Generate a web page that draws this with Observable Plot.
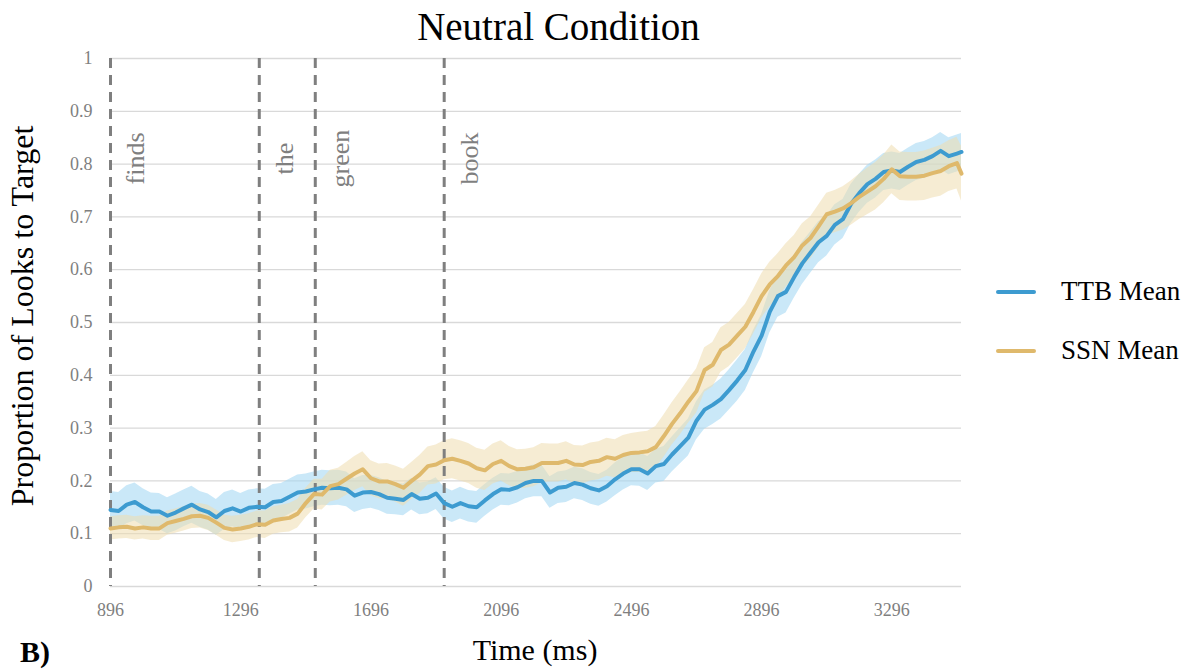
<!DOCTYPE html>
<html>
<head>
<meta charset="utf-8">
<script src="https://cdn.jsdelivr.net/npm/d3@7"></script>
<script src="https://cdn.jsdelivr.net/npm/@observablehq/plot@0.6"></script>
<style>
  html, body { margin: 0; padding: 0; background: #fff; }
  #wrap { position: relative; width: 1190px; height: 671px; font-family: "Liberation Serif", "Times New Roman", serif; }
  #wrap svg { position: absolute; left: 0; top: 0; }
  .lbl { position: absolute; white-space: nowrap; color: #000; }
  .sw { position: absolute; width: 40px; height: 4px; border-radius: 2px; }
</style>
</head>
<body>
<div id="wrap">
  <div class="lbl" style="left:558.5px; top:4px; font-size:39px; line-height:45px; transform:translateX(-50%);">Neutral Condition</div>
  <div class="lbl" style="left:22px; top:316px; font-size:32px; line-height:36px; transform:translate(-50%,-50%) rotate(-90deg);">Proportion of Looks to Target</div>
  <div class="lbl" style="left:535px; top:633px; font-size:30px; line-height:34px; transform:translateX(-50%);">Time (ms)</div>
  <div class="lbl" style="left:20px; top:635px; font-size:30px; line-height:34px; font-weight:bold;">B)</div>
  <div id="legend"></div>
</div>
<script>
// ---- data ----
const times = [...d3.range(896, 3497, 25), 3510];

const ttbMean = [
  0.145, 0.143, 0.155, 0.160, 0.150, 0.142, 0.142, 0.134, 0.140, 0.148,
  0.155, 0.146, 0.141, 0.131, 0.143, 0.148, 0.142, 0.149, 0.151, 0.150,
  0.160, 0.162, 0.170, 0.178, 0.180, 0.184, 0.187, 0.186, 0.187, 0.184,
  0.172, 0.178, 0.179, 0.175, 0.168, 0.166, 0.164, 0.175, 0.166, 0.168,
  0.176, 0.158, 0.151, 0.158, 0.152, 0.150, 0.163, 0.175, 0.184, 0.183,
  0.188, 0.196, 0.200, 0.200, 0.178, 0.187, 0.189, 0.196, 0.193, 0.186,
  0.182, 0.190, 0.203, 0.214, 0.222, 0.222, 0.214, 0.228, 0.232, 0.250,
  0.266, 0.282, 0.314, 0.335, 0.344, 0.355, 0.372, 0.390, 0.410, 0.445,
  0.475, 0.520, 0.550, 0.558, 0.586, 0.612, 0.632, 0.652, 0.664, 0.685,
  0.696, 0.725, 0.745, 0.762, 0.772, 0.785, 0.788, 0.785, 0.795, 0.804,
  0.808, 0.815, 0.825, 0.815, 0.820, 0.823
];
const ttbErr = [
  0.035, 0.035, 0.036, 0.036, 0.035, 0.035, 0.034, 0.034, 0.035, 0.035,
  0.035, 0.034, 0.034, 0.034, 0.035, 0.035, 0.034, 0.034, 0.034, 0.034,
  0.033, 0.033, 0.033, 0.033, 0.033, 0.033, 0.033, 0.033, 0.033, 0.033,
  0.032, 0.032, 0.031, 0.031, 0.031, 0.030, 0.030, 0.030, 0.030, 0.030,
  0.030, 0.030, 0.030, 0.030, 0.030, 0.030, 0.030, 0.030, 0.030, 0.030,
  0.030, 0.030, 0.030, 0.030, 0.030, 0.030, 0.030, 0.030, 0.030, 0.030,
  0.030, 0.030, 0.031, 0.031, 0.031, 0.032, 0.032, 0.032, 0.033, 0.033,
  0.034, 0.035, 0.036, 0.037, 0.037, 0.038, 0.038, 0.039, 0.039, 0.040,
  0.040, 0.040, 0.040, 0.040, 0.040, 0.040, 0.039, 0.039, 0.038, 0.038,
  0.037, 0.037, 0.036, 0.036, 0.036, 0.035, 0.035, 0.035, 0.035, 0.035,
  0.035, 0.035, 0.035, 0.035, 0.035, 0.035
];
const ssnMean = [
  0.110, 0.112, 0.113, 0.110, 0.112, 0.110, 0.110, 0.120, 0.124, 0.128,
  0.133, 0.134, 0.130, 0.121, 0.111, 0.108, 0.110, 0.113, 0.118, 0.117,
  0.125, 0.128, 0.130, 0.138, 0.158, 0.175, 0.174, 0.190, 0.194, 0.204,
  0.214, 0.222, 0.205, 0.199, 0.199, 0.194, 0.187, 0.200, 0.212, 0.228,
  0.231, 0.239, 0.242, 0.238, 0.233, 0.224, 0.220, 0.232, 0.238, 0.228,
  0.222, 0.223, 0.226, 0.234, 0.234, 0.234, 0.238, 0.231, 0.230, 0.236,
  0.238, 0.245, 0.242, 0.249, 0.253, 0.254, 0.256, 0.264, 0.285, 0.308,
  0.328, 0.350, 0.370, 0.410, 0.420, 0.448, 0.458, 0.475, 0.492, 0.520,
  0.550, 0.572, 0.588, 0.608, 0.624, 0.646, 0.660, 0.682, 0.705, 0.710,
  0.716, 0.726, 0.738, 0.748, 0.758, 0.772, 0.790, 0.777, 0.776, 0.776,
  0.778, 0.783, 0.787, 0.796, 0.802, 0.782
];
const ssnErr = [
  0.022, 0.022, 0.022, 0.022, 0.022, 0.023, 0.023, 0.023, 0.023, 0.023,
  0.023, 0.023, 0.024, 0.024, 0.024, 0.025, 0.025, 0.025, 0.025, 0.026,
  0.026, 0.026, 0.027, 0.027, 0.028, 0.028, 0.029, 0.030, 0.030, 0.031,
  0.032, 0.033, 0.033, 0.033, 0.034, 0.034, 0.035, 0.035, 0.036, 0.036,
  0.037, 0.037, 0.038, 0.038, 0.038, 0.038, 0.038, 0.038, 0.038, 0.037,
  0.037, 0.037, 0.037, 0.037, 0.036, 0.036, 0.036, 0.036, 0.036, 0.036,
  0.036, 0.036, 0.036, 0.037, 0.037, 0.038, 0.038, 0.039, 0.040, 0.040,
  0.041, 0.041, 0.042, 0.042, 0.042, 0.042, 0.042, 0.042, 0.042, 0.042,
  0.042, 0.042, 0.042, 0.041, 0.041, 0.041, 0.040, 0.040, 0.040, 0.040,
  0.041, 0.042, 0.043, 0.044, 0.045, 0.045, 0.046, 0.046, 0.046, 0.046,
  0.047, 0.047, 0.048, 0.048, 0.049, 0.052
];

const words = ["finds", "the", "green", "book"];
const wordOnsets = [896, 1353, 1525, 1921];

const xTicks = [896, 1296, 1696, 2096, 2496, 2896, 3296];
const yTicks = [0, 0.1, 0.2, 0.3, 0.4, 0.5, 0.6, 0.7, 0.8, 0.9, 1];
const yTickLabels = ["0", "0.1", "0.2", "0.3", "0.4", "0.5", "0.6", "0.7", "0.8", "0.9", "1"];

const seriesNames = ["TTB Mean", "SSN Mean"];
const seriesColors = ["#3d9bd0", "#dfb96c"];
const bandColors = ["#a6d8f4", "#efdcae"];

// ---- build table ----
const rows = times.map((t, i) => ({
  t,
  ttb: ttbMean[i], ttbLo: ttbMean[i] - ttbErr[i], ttbHi: ttbMean[i] + ttbErr[i],
  ssn: ssnMean[i], ssnLo: ssnMean[i] - ssnErr[i], ssnHi: ssnMean[i] + ssnErr[i]
}));
const wordRows = words.map((w, i) => ({word: w, t: wordOnsets[i]}));

const chart = Plot.plot({
  width: 1190,
  height: 671,
  marginLeft: 110,
  marginRight: 229,
  marginTop: 58,
  marginBottom: 85,
  style: {fontFamily: "'Liberation Serif', 'Times New Roman', serif", fontSize: "18px", color: "#7f7f7f", background: "transparent"},
  x: {domain: [896, 3510], ticks: xTicks, tickFormat: d => String(d), tickSize: 0, tickPadding: 17, label: null},
  y: {domain: [0, 1], ticks: yTicks, tickFormat: d => yTickLabels[yTicks.indexOf(d)], tickSize: 0, tickPadding: 18, label: null},
  marks: [
    Plot.gridY(yTicks, {stroke: "#d9d9d9", strokeOpacity: 1, strokeWidth: 1.3}),
    Plot.areaY(rows, {x: "t", y1: "ttbLo", y2: "ttbHi", fill: bandColors[0], fillOpacity: 0.6}),
    Plot.areaY(rows, {x: "t", y1: "ssnLo", y2: "ssnHi", fill: bandColors[1], fillOpacity: 0.55}),
    Plot.ruleX(wordRows, {x: "t", stroke: "#7f7f7f", strokeWidth: 3, strokeDasharray: "10,7"}),
    Plot.lineY(rows, {x: "t", y: "ttb", stroke: seriesColors[0], strokeWidth: 4, strokeLinejoin: "round"}),
    Plot.lineY(rows, {x: "t", y: "ssn", stroke: seriesColors[1], strokeWidth: 4, strokeLinejoin: "round"}),
    Plot.text(wordRows, {x: "t", text: "word", frameAnchor: "top", dy: 100, dx: 15, rotate: -90, fontSize: 26, fill: "#7f7f7f"})
  ]
});
document.getElementById("wrap").prepend(chart);

// ---- legend ----
const legend = document.getElementById("legend");
const legendTops = [276, 335];
seriesNames.forEach((name, i) => {
  const sw = document.createElement("div");
  sw.className = "sw";
  sw.style.left = "996px";
  sw.style.top = (legendTops[i] + 13.5) + "px";
  sw.style.background = seriesColors[i];
  legend.appendChild(sw);
  const tx = document.createElement("div");
  tx.className = "lbl";
  tx.style.left = "1061px";
  tx.style.top = legendTops[i] + "px";
  tx.style.fontSize = "27px";
  tx.style.lineHeight = "30px";
  tx.textContent = name;
  legend.appendChild(tx);
});
</script>
</body>
</html>
